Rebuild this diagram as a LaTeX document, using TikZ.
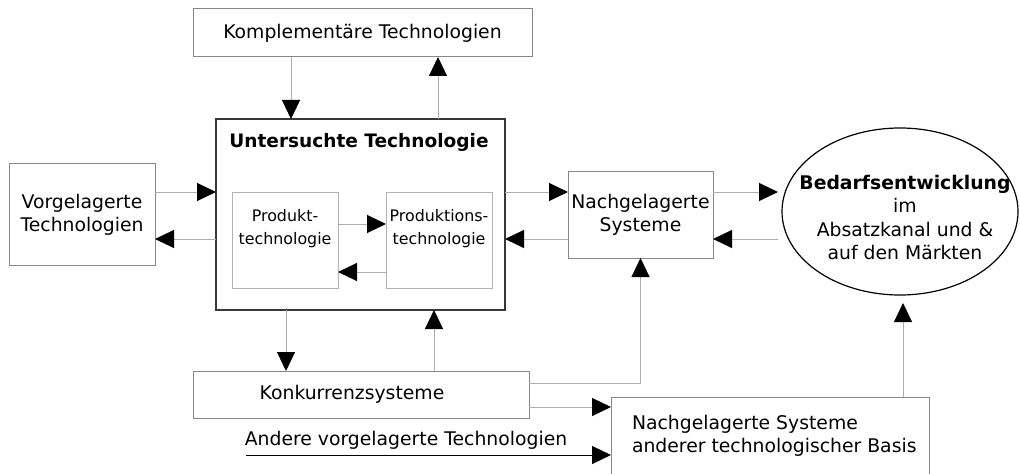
\documentclass[tikz,border=0pt]{standalone}
\usepackage{fontspec}
\setmainfont{DejaVu Sans}
\usetikzlibrary{arrows.meta,shapes.geometric}
\begin{document}
\begin{tikzpicture}[x=0.75pt,y=-0.75pt,
  every node/.style={font=\fontsize{14.1pt}{17.3pt}\selectfont, inner sep=0pt, outer sep=0pt},
  box/.style={draw=black!47, line width=0.75pt, fill=white},
  mainbox/.style={draw=black!78, line width=0.85pt, fill=white},
  smalltxt/.style={font=\fontsize{11.9pt}{17pt}\selectfont, align=center},
  tip/.style={-{Triangle[length=14.25pt,width=13.5pt,color=black]}},
  flow/.style={draw=black!32, line width=0.75pt, tip},
  darkflow/.style={draw=black, line width=0.75pt, tip}
]
\useasboundingbox (0,0) rectangle (1020,474);

% boxes
\node[box, minimum width=254.25pt, minimum height=36pt] (komp) at (362.5,33) {Komplementäre Technologien};
\node[mainbox, minimum width=216.75pt, minimum height=143.25pt] (unt) at (360.5,214.5) {};
\node[font=\fontsize{13.9pt}{17pt}\selectfont\bfseries] (unttitle) at (359,142) {Untersuchte Technologie};
\node[box, draw=black!30, minimum width=79.5pt, minimum height=72pt] (prod) at (285,240) {};
\node[smalltxt] (prodtxt) at (285,228.5) {Produkt-\\technologie};
\node[box, draw=black!30, minimum width=79.5pt, minimum height=72pt] (prodn) at (439,240) {};
\node[smalltxt] (prodntxt) at (439,228.5) {Produktions-\\technologie};
\node[box, minimum width=109.5pt, minimum height=75.75pt, align=center] (vorg) at (82,214.5) {Vorgelagerte\\Technologien};
\node[box, minimum width=108.75pt, minimum height=64.5pt, align=center] (nach) at (640.5,215) {Nachgelagerte\\Systeme};
\node[ellipse, draw=black, line width=0.9pt, minimum width=177pt, minimum height=125.25pt] (bed) at (900,211.5) {};
\node[align=center] (bedtxt) at (905,217.5) {\textbf{Bedarfsentwicklung}\\im\\Absatzkanal und \&\\auf den Märkten};
\node[box, minimum width=252pt, minimum height=35.25pt] (konk) at (361,394.5) {};
\node (konktxt) at (352,394.5) {Konkurrenzsysteme};
\node[box, minimum width=238.5pt, minimum height=66pt] (basis) at (770,441) {};
\node[align=left, anchor=west] (basistxt) at (632,435.5) {Nachgelagerte Systeme\\anderer technologischer Basis};
\node (anderetxt) at (406,440) {Andere vorgelagerte Technologien};
\coordinate (andstart) at (246,455);

% connectors
\draw[flow] (291,57) -- (291,119);
\draw[flow] (438,119) -- (438,57);
\draw[flow] (155,192) -- (216,192);
\draw[flow] (216,239) -- (155,239);
\draw[flow] (338,224) -- (386,224);
\draw[flow] (386,272) -- (338,272);
\draw[flow] (505,192) -- (568,192);
\draw[flow] (568,239) -- (505,239);
\draw[flow] (713,192) -- (778,192);
\draw[flow] (778,239) -- (713,239);
\draw[flow] (286,310) -- (286,371);
\draw[flow] (434,371) -- (434,310);
\draw[flow] (529,383) -| (nach.south);
\draw[flow] (529,407) -- (611,407);
\draw[darkflow] (andstart) -- (611,455);
\draw[flow] (903,397) -- (903,303);
\end{tikzpicture}
\end{document}
